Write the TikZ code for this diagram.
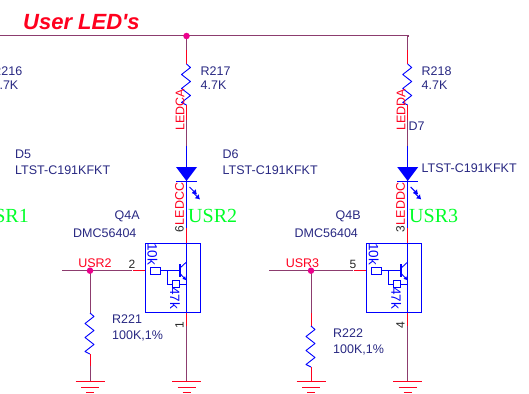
\documentclass[tikz,border=0pt]{standalone}
\usepackage{fontspec}
\setmainfont{Liberation Sans}
\newfontfamily\serifgreen{Liberation Serif}
\newfontfamily\titlefont{Liberation Sans}
\usetikzlibrary{arrows.meta}
\definecolor{navytxt}{RGB}{40,40,130}
\definecolor{wirea}{RGB}{140,60,110}
\definecolor{wireb}{RGB}{255,0,30}
\definecolor{partblue}{RGB}{0,0,255}
\definecolor{greentxt}{RGB}{0,255,40}
\tikzset{
 x=1pt,y=-1pt,
 wire/.style={draw=wirea,line width=1pt},
 redw/.style={draw=wireb,line width=1pt},
 blw/.style={draw=partblue,line width=1pt},
 part/.style={draw=partblue,line width=.9pt},
 lbl/.style={text=navytxt,font=\fontsize{12.5}{14}\selectfont,anchor=west,inner sep=0pt},
 netl/.style={text=wireb,font=\fontsize{12.5}{14}\selectfont,inner sep=0pt},
 pin/.style={text=black!85,font=\fontsize{12}{14}\selectfont,inner sep=0pt},
 usr/.style={text=greentxt,font=\serifgreen\fontsize{20}{24}\selectfont,anchor=west,inner sep=0pt},
 intl/.style={text=partblue,font=\fontsize{13.5}{15}\selectfont,inner sep=0pt,rotate=-90},
 dotn/.style={circle,fill=magenta,inner sep=0pt,minimum size=6.5pt},
 res/.style={part,fill=white},
 ledarrow/.style={part,line width=1pt,-{Latex[length=4.5pt,width=6pt]}},
}
\newcommand{\zigzag}[2]{% x, top y (vertical, 41 long)
 \draw[part,line join=round] (#1,#2) -- ++(4,3.5) -- ++(-9,7) -- ++(9,7) -- ++(-9,7) -- ++(9,7) -- ++(-9,7) -- ++(5,2.5);}
\newcommand{\gnd}[2]{%
 \draw[redw] (#1-14.5,#2) -- (#1+14.5,#2);
 \draw[redw,line width=.7pt] (#1-9,#2+5.5) -- (#1+9,#2+5.5);
 \draw[redw,line width=.7pt] (#1-4,#2+10.5) -- (#1+4,#2+10.5);}
\newcommand{\channel}[1]{% x of the vertical line
 \draw[wire] (#1,36) -- (#1,50);
 \draw[redw] (#1,50) -- (#1,64);
 \zigzag{#1}{64}
 \draw[redw] (#1,105) -- (#1,120);
 \draw[wire] (#1,120) -- (#1,146);
 \draw[blw] (#1,146) -- (#1,243);
 \fill[partblue] (#1-10.5,167) -- (#1+10.5,167) -- (#1,181) -- cycle;
 \draw[blw] (#1-10.5,181) -- (#1+10.5,181);
 \draw[ledarrow] (#1+3,187) -- (#1+10.5,194.5);
 \draw[ledarrow] (#1+6,192) -- (#1+13.5,199.5);
 \draw[redw] (#1,228) -- (#1,243);
 \draw[part] (#1-41.5,243) rectangle (#1+14,312.5);
 \draw[blw] (#1,243) -- (#1,312.5);
 \draw[part] (#1-36,270.7) -- (#1-6.5,270.7);
 \draw[part,line width=1.5pt] (#1-6.5,264) -- (#1-6.5,277);
 \draw[part] (#1-6.5,268) -- (#1,262);
 \draw[part,-{Latex[length=4pt,width=4pt]}] (#1-6.5,273.5) -- (#1,280.5);
 \draw[res] (#1-36,267.5) rectangle (#1-26,274);
 \draw[part] (#1-19.5,270.7) -- (#1-19.5,284) -- (#1,284);
 \draw[res] (#1-14,280.5) rectangle (#1-7.5,287);
 \node[intl] at (#1-34,254) {10k};
 \node[intl] at (#1-11.5,298) {47k};
 \draw[redw] (#1-41.5,270.7) -- (#1-54,270.7);
 \draw[redw] (#1,312.5) -- (#1,326);
 \draw[wire] (#1,326) -- (#1,381);
 \gnd{#1}{381.5}
}
\begin{document}
\begin{tikzpicture}
\useasboundingbox (0,0) rectangle (529,393);
\clip (0,0) rectangle (529,393);
\node[anchor=west,inner sep=0pt,text=wireb,font=\titlefont\fontsize{22}{24}\selectfont\bfseries\itshape] (title) at (23,22) {User LED's};
\draw[wire] (0,36) -- (408,36) -- (408,37);
\channel{186.5}
\channel{407.7}
\draw[wire] (62,270.7) -- (132,270.7);
\draw[wire] (269,270.7) -- (353,270.7);
\draw[wire] (90,270.7) -- (90,313);
\zigzag{90}{313}
\draw[redw] (90,354) -- (90,366);
\draw[wire] (90,366) -- (90,381);
\gnd{90}{381.5}
\draw[wire] (311,270.7) -- (311,313);
\draw[redw] (311,313) -- (311,326);
\zigzag{311}{326}
\draw[redw] (311,367) -- (311,381);
\gnd{311}{381.5}
\node[dotn] (d1) at (186.5,36) {};
\node[dotn] (d2) at (90,270.7) {};
\node[dotn] (d3) at (311,270.7) {};
\node[lbl,anchor=east] (r216) at (22.5,71) {R216};
\node[lbl,anchor=east] (k216) at (18.5,85) {4.7K};
\node[lbl] (d5) at (15,154) {D5};
\node[lbl] (l5) at (15,170) {LTST-C191KFKT};
\node[usr,anchor=east] (u1) at (29,216) {USR1};
\node[lbl] (r217) at (200.5,71) {R217};
\node[lbl] (k217) at (200.5,85) {4.7K};
\node[lbl] (d6) at (222.5,154) {D6};
\node[lbl] (l6) at (222.5,170) {LTST-C191KFKT};
\node[usr] (u2) at (188,216) {USR2};
\node[netl,rotate=90] (n1) at (180,109.5) {LEDCA};
\node[netl,rotate=90] (n2) at (179.5,204) {LEDCC};
\node[pin,rotate=90] (p6) at (179.5,229.5) {6};
\node[pin,rotate=90] (p1) at (179.5,325.5) {1};
\node[pin] (p2) at (132,264) {2};
\node[netl] (nu2) at (95,263.5) {USR2};
\node[lbl] (q4a) at (114.5,216.5) {Q4A};
\node[lbl] (dm1) at (73,233.5) {DMC56404};
\node[lbl] (r221) at (112,319.5) {R221};
\node[lbl] (v221) at (112,336) {100K,1\%};
\node[lbl] (r218) at (421.5,71) {R218};
\node[lbl] (k218) at (421.5,85) {4.7K};
\node[lbl] (d7) at (408.5,126) {D7};
\node[lbl] (l7) at (421.5,168) {LTST-C191KFKT};
\node[usr] (u3) at (409,216) {USR3};
\node[netl,rotate=90] (n3) at (401,109.5) {LEDDA};
\node[netl,rotate=90] (n4) at (400.5,204) {LEDDC};
\node[pin,rotate=90] (p3) at (400.5,229.5) {3};
\node[pin,rotate=90] (p4) at (400.5,325.5) {4};
\node[pin] (p5) at (353,264) {5};
\node[netl] (nu3) at (302.5,263.5) {USR3};
\node[lbl] (q4b) at (335.5,216.5) {Q4B};
\node[lbl] (dm2) at (294.5,233.5) {DMC56404};
\node[lbl] (r222) at (333,333) {R222};
\node[lbl] (v222) at (333,350) {100K,1\%};
\end{tikzpicture}
\end{document}
